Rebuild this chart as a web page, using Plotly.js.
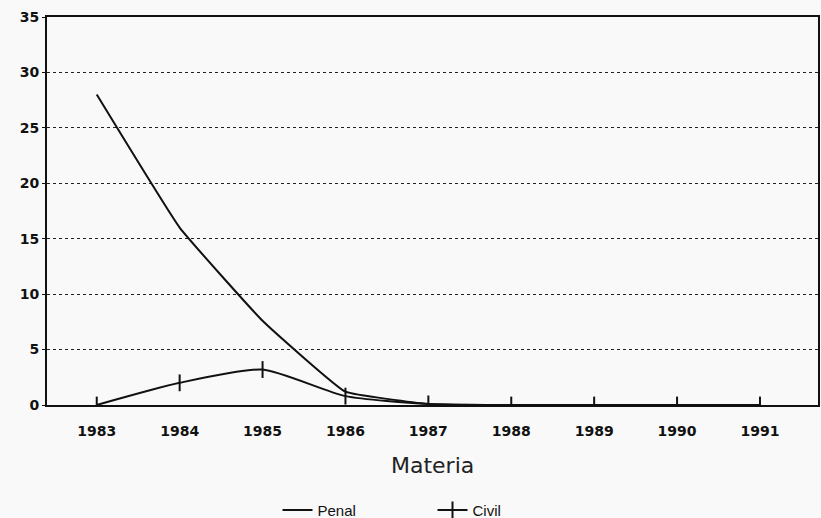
<!DOCTYPE html>
<html>
<head>
<meta charset="utf-8">
<script src="https://cdn.plot.ly/plotly-3.0.1.min.js"></script>
<style>html,body{margin:0;padding:0;background:#f9f9f9;}#chart{width:821px;height:518px;}</style>
</head>
<body>
<div id="chart"></div>
<script>
var years = [1983, 1984, 1985, 1986, 1987, 1988, 1989, 1990, 1991];
var penal = [28, 16, 7.6, 1.2, 0.1, 0, 0, 0, 0];
var civil = [0, 2, 3.2, 0.8, 0.1, 0, 0, 0, 0];
var yTicks = [0, 5, 10, 15, 20, 25, 30, 35];

var traces = [
  {x: years, y: penal, name: 'Penal', type: 'scatter', mode: 'lines',
   line: {color: '#111', width: 2, shape: 'spline', smoothing: 0.3}},
  {x: years, y: civil, name: 'Civil', type: 'scatter', mode: 'lines+markers',
   line: {color: '#111', width: 2, shape: 'spline', smoothing: 0.6},
   marker: {symbol: 'line-ns-open', size: 12, color: '#111', line: {width: 2, color: '#111'}}}
];

var layout = {
  width: 821, height: 518,
  margin: {l: 47, r: 3, t: 17, b: 113, autoexpand: false},
  paper_bgcolor: '#f9f9f9', plot_bgcolor: '#f9f9f9',
  font: {family: 'Liberation Sans, Arial, sans-serif', color: '#111'},
  showlegend: true,
  legend: {orientation: 'h', x: 0.5, xanchor: 'center', yref: 'container', y: 0.047, yanchor: 'top',
           entrywidth: 110, entrywidthmode: 'pixels',
           font: {size: 15, color: '#111'}, bgcolor: 'rgba(0,0,0,0)'},
  xaxis: {
    range: [1982.4, 1991.7], tickvals: years, ticktext: years.map(String),
    showgrid: false, zeroline: false, showline: true, mirror: true,
    linecolor: '#111', linewidth: 2, ticks: '', ticklabelstandoff: 12,
    automargin: false,
    tickfont: {family: 'DejaVu Sans, sans-serif', weight: 'bold', size: 14, color: '#111'}
  },
  yaxis: {
    range: [0, 35], tickvals: yTicks, ticktext: yTicks.map(String),
    automargin: false,
    showgrid: true, gridcolor: '#222', griddash: 'dot', gridwidth: 1,
    zeroline: false, showline: true, mirror: true, linecolor: '#111', linewidth: 2,
    ticks: 'outside', ticklen: 3, tickcolor: '#111',
    tickfont: {family: 'DejaVu Sans, sans-serif', weight: 'bold', size: 14, color: '#111'}
  },
  annotations: [
    {text: 'Materia', xref: 'paper', yref: 'paper', x: 0.5, y: -0.155,
     xanchor: 'center', yanchor: 'middle', showarrow: false,
     font: {family: 'DejaVu Sans, sans-serif', size: 22, color: '#222'}}
  ]
};

Plotly.newPlot('chart', traces, layout, {displayModeBar: false, staticPlot: true});
</script>
</body>
</html>
